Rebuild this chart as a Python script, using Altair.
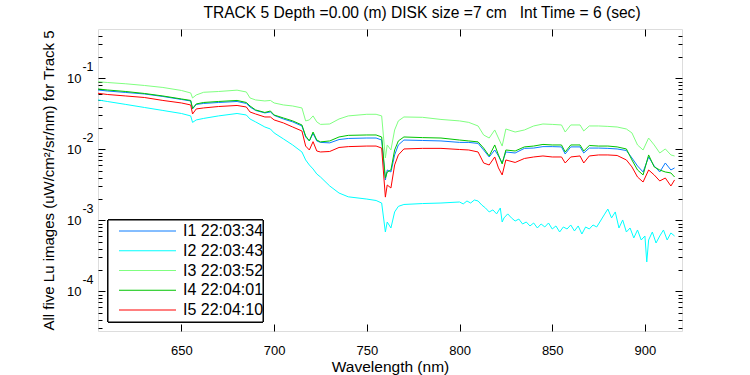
import altair as alt
import pandas as pd

FONT = "Liberation Sans, Arial, sans-serif"

# Shared wavelength grid (nm) for I1, I3, I4, I5
wavelength = [605, 610, 620, 630, 640, 650, 655, 656, 658, 662, 670, 680, 685, 687, 690, 695, 698, 700,
              705, 710, 715, 717, 719, 721, 723, 725, 730, 735, 740, 750, 755, 758, 760, 761, 763, 765,
              767, 770, 780, 790, 800, 805, 810, 813, 816, 819, 821, 823, 825, 830, 835, 840, 845, 850,
              855, 857, 860, 865, 867, 870, 875, 880, 885, 890, 893, 896, 899, 902, 905, 908, 911, 914, 916]

i1 = [0.0684, 0.0662, 0.0631, 0.0601, 0.0554, 0.0503, 0.0479, 0.0370, 0.0428, 0.0442, 0.0456, 0.0471,
      0.0442, 0.0394, 0.0352, 0.0325, 0.0335, 0.0300, 0.0267, 0.0243, 0.0213, 0.0149, 0.0131, 0.0167,
      0.0131, 0.0125, 0.0123, 0.0137, 0.0142, 0.0144, 0.0144, 0.0135, 0.00370, 0.00511, 0.00479, 0.00832,
      0.0115, 0.0135, 0.0133, 0.0131, 0.0125, 0.0125, 0.0121, 0.00977, 0.00779, 0.00977, 0.00805, 0.00641,
      0.00916, 0.00887, 0.0103, 0.0104, 0.0109, 0.0109, 0.0108, 0.00859, 0.0108, 0.0108, 0.00887, 0.0104,
      0.0104, 0.0103, 0.0101, 0.00961, 0.00754, 0.00582, 0.00479, 0.00779, 0.00582, 0.00479, 0.00641,
      0.00511, 0.00546]

i3 = [0.0895, 0.0872, 0.0836, 0.0792, 0.0742, 0.0673, 0.0621, 0.0528, 0.0582, 0.0635, 0.0651, 0.0680,
      0.0641, 0.0528, 0.0495, 0.0479, 0.0487, 0.0449, 0.0421, 0.0407, 0.0382, 0.0251, 0.0259, 0.0295,
      0.0243, 0.0224, 0.0227, 0.0267, 0.0295, 0.0311, 0.0311, 0.0295, 0.00754, 0.0115, 0.00977, 0.0187,
      0.0251, 0.0285, 0.0282, 0.0263, 0.0251, 0.0239, 0.0213, 0.0159, 0.0144, 0.0187, 0.0144, 0.0111,
      0.0193, 0.0175, 0.0187, 0.0213, 0.0227, 0.0224, 0.0220, 0.0175, 0.0220, 0.0220, 0.0181, 0.0213,
      0.0213, 0.0210, 0.0206, 0.0193, 0.0170, 0.0115, 0.00977, 0.0144, 0.0115, 0.00887, 0.0101,
      0.00832, 0.00805]

i4 = [0.0707, 0.0684, 0.0651, 0.0611, 0.0563, 0.0511, 0.0487, 0.0376, 0.0435, 0.0456, 0.0471, 0.0487,
      0.0456, 0.0407, 0.0358, 0.0330, 0.0346, 0.0304, 0.0276, 0.0251, 0.0220, 0.0154, 0.0131, 0.0175,
      0.0135, 0.0127, 0.0131, 0.0149, 0.0157, 0.0159, 0.0159, 0.0149, 0.00394, 0.00479, 0.00511, 0.00977,
      0.0131, 0.0149, 0.0146, 0.0144, 0.0135, 0.0131, 0.0127, 0.0104, 0.00805, 0.0115, 0.00832, 0.00621,
      0.00977, 0.00946, 0.0108, 0.0111, 0.0117, 0.0115, 0.0115, 0.00916, 0.0115, 0.0115, 0.00946, 0.0113,
      0.0111, 0.0111, 0.0108, 0.0101, 0.00707, 0.00511, 0.00435, 0.00832, 0.00564, 0.00511, 0.00479,
      0.00464, 0.00407]

i5 = [0.0615, 0.0591, 0.0563, 0.0536, 0.0487, 0.0449, 0.0421, 0.0314, 0.0370, 0.0382, 0.0400, 0.0414,
      0.0394, 0.0335, 0.0314, 0.0285, 0.0285, 0.0259, 0.0235, 0.0206, 0.0181, 0.0111, 0.00977, 0.0128,
      0.00946, 0.00916, 0.00931, 0.0106, 0.0109, 0.0111, 0.0111, 0.0104, 0.00212, 0.00314, 0.00285, 0.00601,
      0.00832, 0.0101, 0.0103, 0.0103, 0.00993, 0.00977, 0.00916, 0.00641, 0.00601, 0.00779, 0.00546,
      0.00435, 0.00707, 0.00652, 0.00742, 0.00779, 0.00805, 0.00779, 0.00779, 0.00641, 0.00779, 0.00805,
      0.00641, 0.00805, 0.00832, 0.00832, 0.00818, 0.00707, 0.00564, 0.00407, 0.00346, 0.00511, 0.00435,
      0.00358, 0.00394, 0.00304, 0.00370]

# I2 (noisier, own wavelength grid)
wavelength_i2 = [605, 610, 620, 630, 640, 650, 655, 656, 658, 662, 670, 680, 685, 687, 690, 695, 698, 700,
                 705, 710, 715, 717, 719, 721, 723, 725, 730, 735, 740, 750, 755, 758, 760, 761, 763, 765,
                 767, 770, 780, 790,
                 800, 802, 804, 806, 808, 810, 812, 814, 816, 818, 820, 822, 823, 824, 826, 828, 830, 832,
                 834, 836, 838, 840, 842, 844, 846, 848, 850, 852, 854, 856, 858, 860, 862, 864, 866, 868,
                 870, 872, 874, 876, 878, 880, 882, 884, 886, 888, 890, 892, 894, 896, 898, 900, 901, 902,
                 904, 906, 908, 910, 912, 914, 916]

i2 = [0.0495, 0.0471, 0.0428, 0.0388, 0.0352, 0.0319, 0.0295, 0.0239, 0.0259, 0.0272, 0.0295, 0.0319,
      0.0304, 0.0267, 0.0243, 0.0206, 0.0193, 0.0170, 0.0140, 0.0115, 0.00916, 0.00707, 0.00601, 0.00528,
      0.00449, 0.00407, 0.00304, 0.00242, 0.00214, 0.00199, 0.00190, 0.00175, 0.000684, 0.000946, 0.000779,
      0.00131, 0.00157, 0.00167, 0.00172, 0.00175,
      0.00181, 0.00170, 0.00187, 0.00175, 0.00193, 0.00187, 0.00164, 0.00149, 0.00131, 0.00140, 0.00123,
      0.00149, 0.000946, 0.00108, 0.00123, 0.00108, 0.000977, 0.00104, 0.000887, 0.000946, 0.000832,
      0.000916, 0.000779, 0.000887, 0.000805, 0.000916, 0.000754, 0.000832, 0.000684, 0.000805, 0.000754,
      0.000859, 0.000707, 0.000832, 0.000641, 0.000805, 0.000754, 0.000859, 0.000805, 0.000977, 0.00119,
      0.00144, 0.00108, 0.00131, 0.000779, 0.00101, 0.000684, 0.000779, 0.000564, 0.000730, 0.000528,
      0.000601, 0.000259, 0.000528, 0.000684, 0.000479, 0.000601, 0.000730, 0.000528, 0.000663, 0.000601]

names = ["I1 22:03:34", "I2 22:03:43", "I3 22:03:52", "I4 22:04:01", "I5 22:04:10"]
colors = ["#0a7cff", "#00ffff", "#80ff80", "#00c400", "#ff0000"]

x_ticks = [650, 700, 750, 800, 850, 900]
y_major = [1e-4, 1e-3, 1e-2, 1e-1]
y_minor = [m * d for d in [1e-5, 1e-4, 1e-3, 1e-2, 1e-1] for m in range(2, 10)
           if 2.76e-5 <= m * d <= 0.494]

rows = []
for name, wls, vals in [(names[0], wavelength, i1), (names[1], wavelength_i2, i2),
                        (names[2], wavelength, i3), (names[3], wavelength, i4),
                        (names[4], wavelength, i5)]:
    for w, v in zip(wls, vals):
        rows.append({"wl": w, "val": v, "series": name})
df = pd.DataFrame(rows)
legend_df = pd.DataFrame({"series": names})

W, H = 584, 302
x_scale = alt.Scale(domain=[605, 920], nice=False, zero=False)
y_scale = alt.Scale(type="log", domain=[2.76e-5, 0.494], nice=False)
color_scale = alt.Scale(domain=names, range=colors)

base = alt.Chart(df)

lines = base.mark_line(strokeWidth=1, clip=True).encode(
    x=alt.X("wl:Q", scale=x_scale,
            axis=alt.Axis(orient="bottom", values=x_ticks, ticks=False, domain=False, grid=False,
                          labelFont=FONT, labelFontSize=13, labelColor="black", labelPadding=13,
                          title="Wavelength (nm)", titleFont=FONT, titleFontSize=15.5,
                          titleFontWeight="normal", titleColor="black", titlePadding=2)),
    y=alt.Y("val:Q", scale=y_scale,
            axis=alt.Axis(orient="left", values=y_major, labelExpr="'10'", ticks=False, domain=False,
                          grid=False, labelFont=FONT, labelFontSize=13, labelColor="black",
                          labelPadding=17, labelBaseline="middle",
                          title="All five Lu images (uW/cm²/sr/nm) for Track 5", titleFont=FONT,
                          titleFontSize=15, titleFontWeight="normal", titleColor="black",
                          titlePadding=10)),
    color=alt.Color("series:N", scale=color_scale, legend=None),
)

ghost = base.mark_line(strokeOpacity=0)


def tick_layer(xaxis, yaxis):
    return ghost.encode(
        x=alt.X("wl:Q", scale=x_scale, axis=xaxis),
        y=alt.Y("val:Q", scale=y_scale, axis=yaxis),
        detail="series:N",
    )


def ax(orient, values, size, offset, **kw):
    return alt.Axis(orient=orient, values=values, tickSize=size, offset=offset, labels=False,
                    domain=False, grid=False, title=None, tickColor="black", tickWidth=1, **kw)


sup = alt.Axis(orient="left", values=y_major, labelExpr="'-' + round(-log(datum.value)/LN10)",
               ticks=False, domain=False, grid=False, labelFont=FONT, labelFontSize=12.5,
               labelColor="black", labelPadding=5, labelOffset=-12, labelBaseline="middle",
               title=None)

# Legend drawn inside the axes (MATLAB style)
leg_y = alt.Y("series:N", scale=alt.Scale(type="point", domain=names, range=[202, 281], padding=0),
              axis=None)
legend_box = alt.Chart(legend_df).mark_rect(fill="white", stroke="black", strokeWidth=1).encode(
    x=alt.value(10), x2=alt.value(165), y=alt.value(191), y2=alt.value(293))
legend_lines = alt.Chart(legend_df).mark_rule(strokeWidth=1).encode(
    x=alt.value(21), x2=alt.value(78), y=leg_y,
    color=alt.Color("series:N", scale=color_scale, legend=None))
legend_text = alt.Chart(legend_df).mark_text(align="left", baseline="middle", font=FONT,
                                             fontSize=16, color="black").encode(
    x=alt.value(85), y=leg_y, text="series:N")

layers = [
    lines,
    tick_layer(ax("top", x_ticks, 7, -H), sup),
    tick_layer(ax("bottom", x_ticks, 7, -H), ax("right", y_major, 7, -W)),
    tick_layer(None, ax("right", y_minor, 4, -W)),
    tick_layer(None, ax("left", y_major, 7, -W)),
    tick_layer(None, ax("left", y_minor, 4, -W)),
    legend_box,
    legend_lines,
    legend_text,
]

chart = alt.layer(*layers).resolve_axis(x="independent", y="independent").resolve_scale(
    y="independent").properties(
    width=W, height=H,
    autosize="none",
    padding={"left": 98, "top": 29, "right": 750 - 98 - W, "bottom": 375 - 29 - H},
    title=alt.Title("TRACK 5 Depth =0.00 (m) DISK size =7 cm\u00a0\u00a0\u00a0Int Time = 6 (sec)",
                    font=FONT, fontSize=15.6, fontWeight="normal", color="black",
                    anchor="middle", offset=7, dx=32),
).configure_view(stroke="black", strokeWidth=1).configure(background="white")

chart.save("out.html", embed_options={"renderer": "svg", "actions": False})
